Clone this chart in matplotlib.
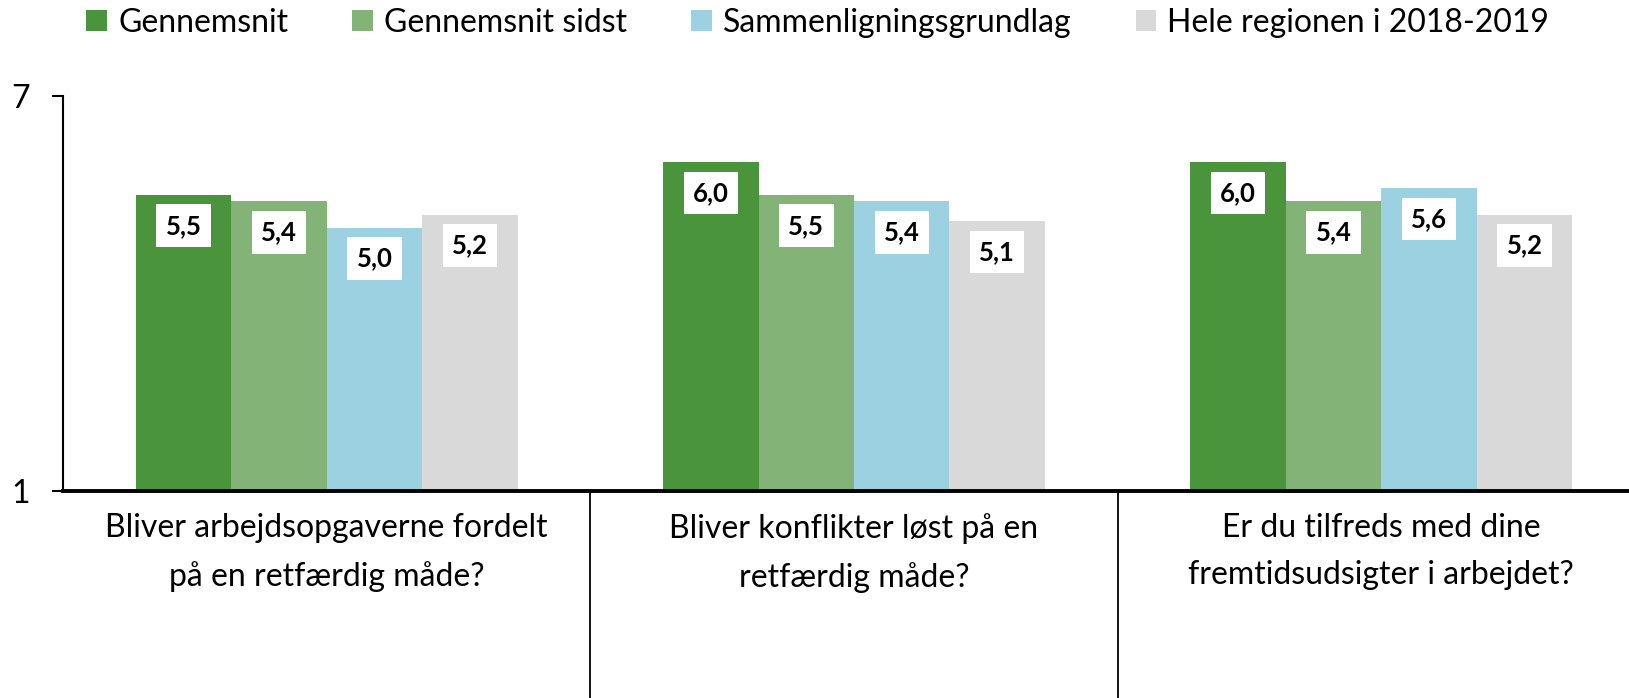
import matplotlib
matplotlib.use("Agg")
import matplotlib.pyplot as plt
import numpy as np
from matplotlib.patches import Patch

plt.rcParams['font.family'] = ['Lato', 'DejaVu Sans']

categories = ["Bliver arbejdsopgaverne fordelt\npå en retfærdig måde?",
              "Bliver konflikter løst på en\nretfærdig måde?",
              "Er du tilfreds med dine\nfremtidsudsigter i arbejdet?"]
series_names = ["Gennemsnit", "Gennemsnit sidst", "Sammenligningsgrundlag", "Hele regionen i 2018-2019"]
gennemsnit = [5.5, 6.0, 6.0]
gennemsnit_sidst = [5.4, 5.5, 5.4]
sammenligning = [5.0, 5.4, 5.6]
hele_regionen = [5.2, 5.1, 5.2]
series = [gennemsnit, gennemsnit_sidst, sammenligning, hele_regionen]
colors = ["#4A943C", "#84B377", "#9BD1E1", "#D9D9D9"]
yticks = [1, 7]

W, H = 1629, 698
fig = plt.figure(figsize=(W / 100, H / 100), dpi=100)
left_px, right_px, top_px, bot_px = 63, 1645, 96, 491
ax = fig.add_axes([left_px / W, 1 - bot_px / H, (right_px - left_px) / W, (bot_px - top_px) / H])

x = np.arange(len(categories))
bw = 0.181
for i, (vals, c) in enumerate(zip(series, colors)):
    xs = x + (i - 1.5) * bw
    ax.bar(xs, vals, width=bw, color=c, zorder=2)
    for xx, v in zip(xs, vals):
        ax.annotate(f"{v:.1f}".replace(".", ","), xy=(xx, v), xytext=(0, -22.3),
                    textcoords="offset points", ha="center", va="center",
                    fontsize=18.5, fontweight="bold", color="black", zorder=3,
                    bbox=dict(boxstyle="square,pad=0.36", fc="white", ec="none"))

ax.set_xlim(-0.5, 2.5)
ax.set_ylim(1, 7)
ax.set_yticks(yticks)
ax.set_yticklabels([str(t) for t in yticks], fontsize=23)
ax.tick_params(axis="y", direction="out", length=8, width=1.5, pad=16)

ax.set_xticks(x)
ax.set_xticklabels(categories, fontsize=23, linespacing=1.7)
ax.tick_params(axis="x", which="major", length=0, pad=16)
ax.set_xticks([0.5, 1.5], minor=True)
ax.tick_params(axis="x", which="minor", direction="out", length=160, width=1.3)

for s in ["top", "right"]:
    ax.spines[s].set_visible(False)
ax.spines["left"].set_linewidth(1.5)
ax.spines["bottom"].set_linewidth(2.8)

handles = [Patch(facecolor=c, edgecolor="none") for c in colors]
fig.legend(handles, series_names, loc="center", bbox_to_anchor=(0.502, 1 - 23 / H),
           ncol=4, frameon=False, fontsize=23, handlelength=0.65, handleheight=0.65,
           handletextpad=0.35, columnspacing=2.0)

fig.savefig("out.png", dpi=100)
